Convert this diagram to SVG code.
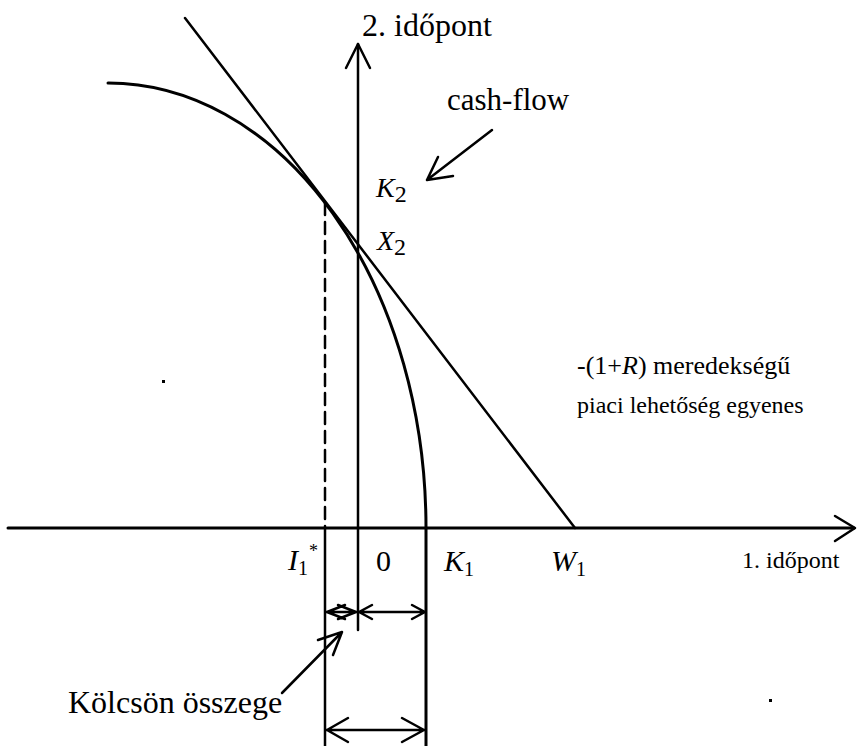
<svg xmlns="http://www.w3.org/2000/svg" width="857" height="746" viewBox="0 0 857 746">
<style>
.ln{stroke:#000;fill:none;stroke-linecap:round;stroke-linejoin:round}
.t{font-family:"Liberation Serif","DejaVu Serif",serif;fill:#000}
.i{font-style:italic}
</style>
<rect width="857" height="746" fill="#fff"/>
<g id="axis-x">
<path class="ln" stroke-width="3" d="M8,528 H854"/>
<path class="ln" stroke-width="2.5" d="M835,516 L855,528 L835,541"/>
<text class="t" x="742" y="568" font-size="24">1. időpont</text>
</g>
<g id="axis-y">
<path class="ln" stroke-width="2.5" d="M358,630 V44"/>
<path class="ln" stroke-width="2.5" d="M346,68 L358,44 L370,68"/>
<text class="t" x="362" y="36" font-size="32">2. időpont</text>
</g>
<g id="curve">
<path class="ln" stroke-width="3" d="M108,83 A318,445 0 0 1 426,528 L426,746"/>
</g>
<g id="market-line">
<path class="ln" stroke-width="2.5" d="M185,18 L575,528"/>
</g>
<g id="connectors">
<path class="ln" stroke-width="2.5" stroke-dasharray="12 7" stroke-linecap="butt" d="M325,203 V528"/>
<path class="ln" stroke-width="2.5" d="M325,528 V746"/>
<path class="ln" stroke-width="2.5" d="M492,130 L427,180 M438,157 L427,180 L453,176"/>
<path class="ln" stroke-width="2.5" d="M282,693 L342,632 M318,640 L342,632 L333,655"/>
<path class="ln" stroke-width="2.5" d="M326,612 H425 M345,605 L327,612 L345,619 M338,605 L356,612 L338,619 M372,605 L359,612 L372,619 M412,605 L425,612 L412,619"/>
<path class="ln" stroke-width="2.5" d="M326,730 H425 M348,718 L327,730 L348,742 M402,718 L424,730 L402,742"/>
</g>
<g id="labels">
<text class="t" x="447" y="110" font-size="31">cash-flow</text>
<text class="t" x="376" y="197" font-size="28"><tspan class="i">K</tspan><tspan font-size="24" dy="5">2</tspan></text>
<text class="t" x="377" y="250" font-size="28"><tspan class="i">X</tspan><tspan font-size="24" dy="5">2</tspan></text>
<text class="t" x="577" y="374" font-size="26">-(1+<tspan class="i">R</tspan>) meredekségű</text>
<text class="t" x="577" y="413" font-size="24">piaci lehetőség egyenes</text>
<text class="t" x="288" y="570" font-size="30"><tspan class="i">I</tspan><tspan font-size="20" dy="5">1</tspan></text>
<text class="t" x="309" y="557" font-size="18">*</text>
<text class="t" x="376" y="571" font-size="30">0</text>
<text class="t" x="444" y="571" font-size="30"><tspan class="i">K</tspan><tspan font-size="20" dy="5">1</tspan></text>
<text class="t" x="551" y="571" font-size="30"><tspan class="i">W</tspan><tspan font-size="20" dy="5">1</tspan></text>
<text class="t" x="68" y="713" font-size="32">Kölcsön összege</text>
</g>
<g id="specks">
<rect x="162" y="380" width="3" height="3" fill="#000"/>
<rect x="769" y="699" width="3" height="3" fill="#000"/>
</g>
</svg>
